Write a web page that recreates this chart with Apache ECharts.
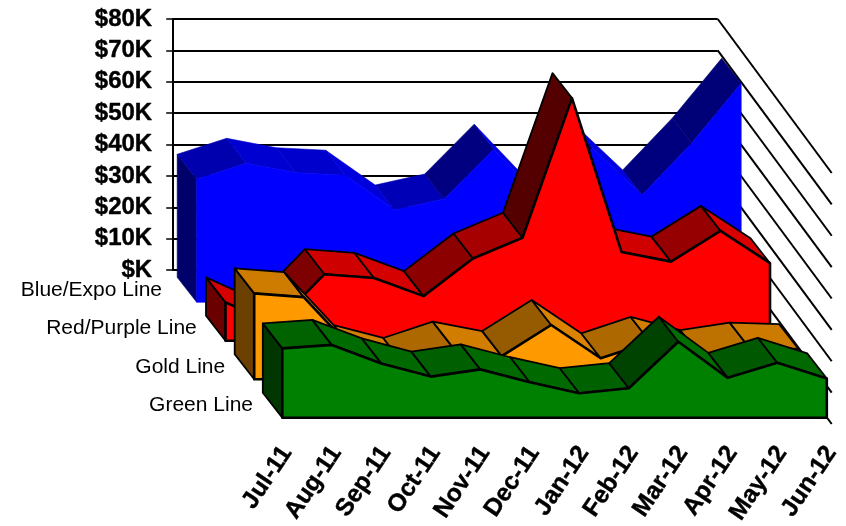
<!DOCTYPE html>
<html><head><meta charset="utf-8">
<style>html,body{margin:0;padding:0;background:#fff}#c{width:846px;height:526px}</style>
<script src="https://cdn.jsdelivr.net/npm/echarts@6/dist/echarts.min.js"></script>
</head><body><div id="c"></div>
<script>
const months = ['Jul-11','Aug-11','Sep-11','Oct-11','Nov-11','Dec-11','Jan-12','Feb-12','Mar-12','Apr-12','May-12','Jun-12'];
const yTicks = [0,10,20,30,40,50,60,70,80];
const seriesNames = ['Blue/Expo Line','Red/Purple Line','Gold Line','Green Line'];
const blueValues  = [39.2,44.3,41.3,40.5,29.4,32.9,48.8,32.3,49.1,34.2,50.7,69.8];
const redValues   = [12.2,5.1,21.2,20.0,14.2,26.2,32.8,77.3,28.3,25.2,35.0,24.7];
const goldValues  = [27.4,26.2,9.3,5.2,10.4,7.4,17.3,6.7,11.9,7.7,10.1,9.6];
const greenValues = [22.1,23.2,17.3,13.1,15.4,11.3,7.8,9.4,24.2,12.7,17.5,12.5];
const allValues = [blueValues,redValues,goldValues,greenValues];

// layout of the oblique projection
const W = 544.5, H = 251, L0 = 173.2, T0 = 19;
const WALL_DX = 114, WALL_DY = 154;
const offX = [23.5,52.3,81,109.1], offY = [32.3,70.7,109.3,147.7];
const BAND_DX = 19.5, BAND_DY = 25;
const rgb = [[0,0,255],[255,0,0],[255,153,0],[0,128,0]];
const outlined = [false,true,true,true];
const labelMargin = [34.7,28.7,29,29.3];

function shade(c,f){return 'rgb('+c.map(v=>Math.round(v*f)).join(',')+')';}
function slopeFactor(s){ // s = px rise per px run
  const a = Math.atan(s);
  return s>0 ? 0.8-0.38*a : 0.8+0.1*Math.abs(a);
}

const grids=[{left:L0,top:T0,width:W,height:H,outerBoundsMode:'none'}];
offX.forEach((x,i)=>grids.push({left:L0+x,top:T0+offY[i],width:W,height:H,outerBoundsMode:'none'}));

const xAxes=grids.map((g,i)=>({
  type:'category',gridIndex:i,data:months,boundaryGap:false,
  axisLine:{show:false},axisTick:{show:false},splitLine:{show:false},
  axisLabel:i===4?{show:true,interval:0,rotate:56,margin:28,verticalAlign:'top',lineHeight:11,
    fontFamily:'Liberation Sans',fontWeight:'bold',fontSize:24.5,color:'#000',
    textBorderColor:'#000',textBorderWidth:0.4}:{show:false}
}));
const yAxes=grids.map((g,i)=>i===0?({
  type:'value',gridIndex:0,min:0,max:80,interval:10,
  axisLine:{show:true,onZero:false,lineStyle:{color:'#000',width:2}},
  axisTick:{show:true,length:7,lineStyle:{color:'#000',width:1.5}},
  splitLine:{show:true,lineStyle:{color:'#000',width:2}},
  axisLabel:{margin:21,padding:[4,0,0,0],fontFamily:'Liberation Sans',fontWeight:'bold',fontSize:24,color:'#000',
    textBorderColor:'#000',textBorderWidth:0.4,
    formatter:v=>v===0?'$K':'$'+v+'K'}
}):({
  type:'value',gridIndex:i,min:0,max:80,interval:10,
  axisLine:{show:false},axisTick:{show:false},splitLine:{show:false},
  axisLabel:{margin:labelMargin[i-1],fontFamily:'Liberation Sans',fontSize:21,color:'#000',
    verticalAlign:'bottom',lineHeight:24,
    formatter:v=>v===0?seriesNames[i-1]:''}
}));

function bandRender(b){
  const vals=allValues[b], col=rgb[b], ol=outlined[b];
  const st=(fill,w)=>({fill:fill,stroke:ol?'#000':fill,lineWidth:ol?w:0.6,lineJoin:'round'});
  return function(params,api){
    const i=params.dataIndex, kids=[];
    const p=api.coord([i,api.value(1)]);
    if(i===0){
      const base=api.coord([0,0]);
      kids.push({type:'polygon',z2:1,shape:{points:[base,p,[p[0]-BAND_DX,p[1]-BAND_DY],[base[0]-BAND_DX,base[1]-BAND_DY]]},
        style:st(shade(col,0.42),1.8)});
    }
    if(i<vals.length-1){
      const q=api.coord([i+1,vals[i+1]]);
      const dx=q[0]-p[0], dy=q[1]-p[1];
      if(dy/dx < BAND_DY/BAND_DX){
        kids.push({type:'polygon',z2:2,shape:{points:[p,q,[q[0]-BAND_DX,q[1]-BAND_DY],[p[0]-BAND_DX,p[1]-BAND_DY]]},
          style:st(shade(col,slopeFactor(-dy/dx)),1.8)});
      }
    } else {
      const pts=vals.map((v,k)=>api.coord([k,v]));
      pts.push(api.coord([vals.length-1,0]));
      pts.push(api.coord([0,0]));
      kids.push({type:'polygon',z2:3,shape:{points:pts},style:st(shade(col,1),2.6)});
    }
    return {type:'group',children:kids};
  };
}

const series=[{
  type:'custom',xAxisIndex:0,yAxisIndex:0,z:2,silent:true,
  data:yTicks.map(v=>[months.length-1,v]),
  renderItem:(params,api)=>{
    const p=api.coord([api.value(0),api.value(1)]);
    return {type:'line',shape:{x1:p[0],y1:p[1],x2:p[0]+WALL_DX,y2:p[1]+WALL_DY},
      style:{stroke:'#000',lineWidth:2}};
  }
}];
allValues.forEach((vals,b)=>series.push({
  type:'custom',name:seriesNames[b],xAxisIndex:b+1,yAxisIndex:b+1,z:3+b,silent:true,
  data:vals.map((v,k)=>[k,v]),renderItem:bandRender(b)
}));

const chart=echarts.init(document.getElementById('c'),null,{renderer:'canvas'});
chart.setOption({animation:false,backgroundColor:'#fff',grid:grids,xAxis:xAxes,yAxis:yAxes,series:series});
</script></body></html>
